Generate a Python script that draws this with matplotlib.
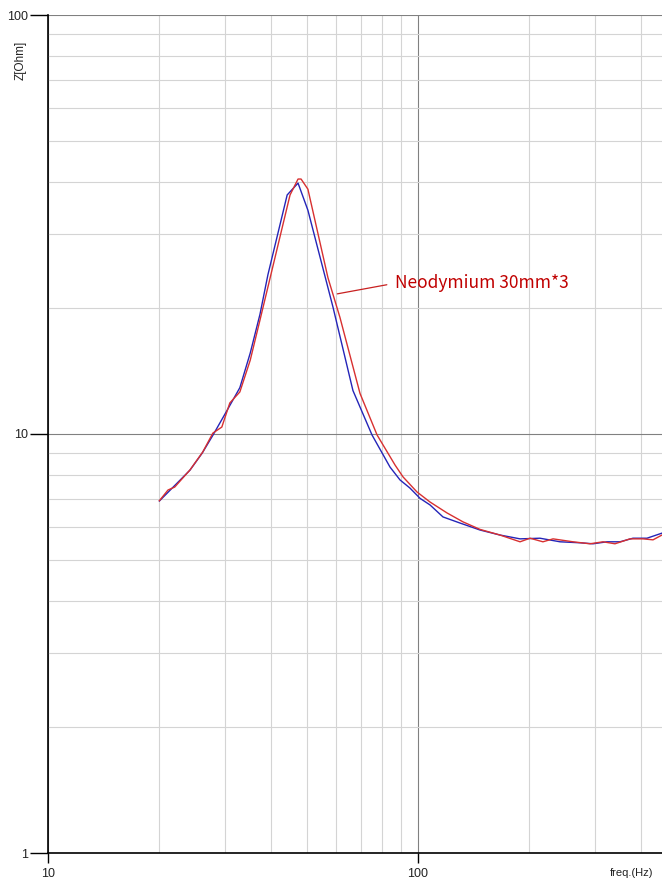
import numpy as np
import matplotlib
matplotlib.use("Agg")
import matplotlib.pyplot as plt
from matplotlib.ticker import LogLocator, NullFormatter

# Impedance curves (freq in Hz, Z in Ohm)
blue_freq = [20.0, 21.4, 24.2, 26.1, 27.9, 30.5, 33.0, 35.2, 37.4, 39.3, 44.3, 47.4,
             50.4, 58.9, 66.7, 75.1, 84.0, 89.4, 95.1, 101.3, 107.8,
             116.8, 129.9, 147.1, 166.5, 188.7, 213.6, 242.0, 274.1, 297.2, 324.2,
             351.5, 381.1, 415.8, 456.5]
blue_z = [6.92, 7.35, 8.2, 9.0, 9.93, 11.4, 12.9, 15.6, 19.3, 24.0, 37.2, 39.7,
          34.2, 20.1, 12.7, 9.95, 8.34, 7.77, 7.43, 7.02, 6.77,
          6.34, 6.13, 5.90, 5.74, 5.62, 5.64, 5.53, 5.50, 5.47, 5.53,
          5.53, 5.64, 5.64, 5.80]

red_freq = [20.0, 21.1, 22.0, 24.2, 26.2, 27.9, 29.5, 31.0, 33.0, 35.2, 37.4, 40.3,
            45.1, 47.4, 48.3, 50.4, 57.1, 61.5, 69.7, 77.5, 86.7, 91.1, 99.4, 107.8,
            119.8, 132.3, 147.1, 166.5, 188.7, 200.8, 217.6, 231.7, 262.4, 291.6,
            316.2, 340.7, 374.1, 405.6, 431.7, 456.5]
red_z = [6.93, 7.35, 7.47, 8.21, 9.06, 10.05, 10.39, 11.86, 12.6, 15.0, 18.7, 24.6,
         37.2, 40.6, 40.6, 38.4, 23.6, 19.0, 12.5, 9.95, 8.43, 7.90, 7.27, 6.88,
         6.48, 6.17, 5.92, 5.74, 5.53, 5.64, 5.53, 5.62, 5.53, 5.47,
         5.53, 5.47, 5.62, 5.62, 5.59, 5.74]

label_text = "Neodymium 30mm*3"

W, H = 662, 886
fig = plt.figure(figsize=(W / 100, H / 100), dpi=100)
ax = fig.add_axes([48 / W, (H - 853) / H, (W - 48) / W, (853 - 15) / H])

ax.set_xscale("log")
ax.set_yscale("log")
ax.set_xlim(10, 456.5)
ax.set_ylim(1, 100)

ax.xaxis.set_minor_locator(LogLocator(base=10, subs=np.arange(2, 10)))
ax.yaxis.set_minor_locator(LogLocator(base=10, subs=np.arange(2, 10)))
ax.xaxis.set_minor_formatter(NullFormatter())
ax.yaxis.set_minor_formatter(NullFormatter())
ax.set_xticks([10, 100], labels=["10", "100"])
ax.set_yticks([1, 10, 100], labels=["1", "10", "100"])

ax.grid(which="minor", color="#d4d4d4", lw=0.8)
ax.grid(which="major", color="#808080", lw=0.8)
ax.set_axisbelow(True)

ax.tick_params(which="minor", length=0)
ax.tick_params(axis="y", which="major", length=13, width=1, color="black",
               labelsize=9, pad=1, labelcolor="#222222")
ax.tick_params(axis="x", which="major", length=7, width=1, color="black",
               labelsize=9, pad=4, labelcolor="#222222")
for lab in ax.get_xticklabels() + ax.get_yticklabels():
    lab.set_fontfamily("Liberation Sans")

for side in ["top", "right"]:
    ax.spines[side].set_visible(False)
for side in ["left", "bottom"]:
    ax.spines[side].set_color("black")
    ax.spines[side].set_linewidth(1.2)

ax.plot(blue_freq, blue_z, color="#2424b8", lw=1.0)
ax.plot(red_freq, red_z, color="#d83030", lw=1.0)

ax.annotate(label_text, xy=(60.5, 21.6), xytext=(86.7, 22.9),
            ha="left", va="center", fontsize=12.5, color="#c00000",
            family=["Noto Sans CJK JP", "DejaVu Sans"],
            arrowprops=dict(arrowstyle="-", color="#c82020", lw=0.9,
                            relpos=(0, 0.5), shrinkA=4, shrinkB=0))

fig.text(21 / W, 1 - 60 / H, "Z[Ohm]", rotation=90, ha="center", va="center",
         fontsize=8.5, family="Liberation Sans", color="#222222")
fig.text(632 / W, 1 - 873 / H, "freq.(Hz)", ha="center", va="center",
         fontsize=8, family="Liberation Sans", color="#222222")

fig.savefig("out.png", dpi=100)
